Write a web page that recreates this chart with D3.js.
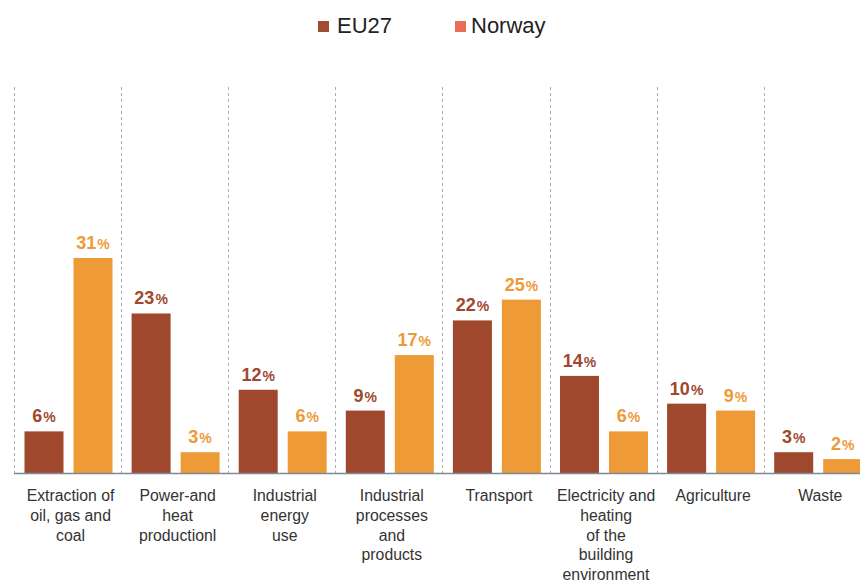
<!DOCTYPE html>
<html>
<head>
<meta charset="utf-8">
<script src="https://cdn.jsdelivr.net/npm/d3@7"></script>
<style>
  html, body { margin: 0; padding: 0; background: #ffffff; }
  svg { display: block; font-family: "Liberation Sans", Arial, Helvetica, sans-serif; }
</style>
</head>
<body>
<svg id="chart" width="860" height="583"></svg>
<script>
// Share of greenhouse gas emissions by sector (%)
const categories = [
  "Extraction of\noil, gas and\ncoal",
  "Power-and\nheat\nproductionl",
  "Industrial\nenergy\nuse",
  "Industrial\nprocesses\nand\nproducts",
  "Transport",
  "Electricity and\nheating\nof the\nbuilding\nenvironment",
  "Agriculture",
  "Waste"
];
const seriesNames = ["EU27", "Norway"];
const eu27 = [6, 23, 12, 9, 22, 14, 10, 3];
const norway = [31, 3, 6, 17, 25, 6, 9, 2];

const barColors = { EU27: "#a0482e", Norway: "#ee9a37" };
const legendColors = { EU27: "#a34a32", Norway: "#eb6c57" };

const svg = d3.select("#chart");
const baseY = 473;

const x = d3.scaleBand()
  .domain(categories)
  .range([14, 14 + 8 * 107.1])
  .paddingInner(0)
  .paddingOuter(0);

const xInner = d3.scaleBand()
  .domain(seriesNames)
  .range([10.5, 98.5])
  .paddingInner(0.204);

const y = d3.scaleLinear()
  .domain([0, 31])
  .range([baseY, 258]);

const rows = categories.map((c, i) => ({ category: c, EU27: eu27[i], Norway: norway[i] }));

// Dashed separators at the left edge of each category
svg.append("g")
  .selectAll("line")
  .data(categories)
  .join("line")
  .attr("x1", d => Math.round(x(d)) + 0.5)
  .attr("x2", d => Math.round(x(d)) + 0.5)
  .attr("y1", 87)
  .attr("y2", baseY)
  .attr("stroke", "#a9adb3")
  .attr("stroke-width", 1)
  .attr("stroke-dasharray", "3,3");

// Bars
const groups = svg.append("g")
  .selectAll("g")
  .data(rows)
  .join("g")
  .attr("transform", d => `translate(${x(d.category)},0)`);

groups.selectAll("rect")
  .data(d => seriesNames.map(s => ({ series: s, value: d[s] })))
  .join("rect")
  .attr("x", d => xInner(d.series))
  .attr("width", xInner.bandwidth())
  .attr("y", d => y(d.value))
  .attr("height", d => baseY - y(d.value) + 1)
  .attr("fill", d => barColors[d.series]);

// Value labels
const valueText = groups.selectAll("text.value")
  .data(d => seriesNames.map(s => ({ series: s, value: d[s] })))
  .join("text")
  .attr("class", "value")
  .attr("x", d => xInner(d.series) + xInner.bandwidth() / 2)
  .attr("y", d => y(d.value) - 9)
  .attr("text-anchor", "middle")
  .attr("font-weight", "bold")
  .attr("fill", d => barColors[d.series]);
valueText.append("tspan")
  .attr("font-size", 18)
  .text(d => d.value);
valueText.append("tspan")
  .attr("font-size", 14)
  .attr("dx", 1)
  .text("%");

// Baseline
svg.append("line")
  .attr("x1", 14)
  .attr("x2", 860)
  .attr("y1", baseY + 0.5)
  .attr("y2", baseY + 0.5)
  .attr("stroke", "#7d8a99")
  .attr("stroke-width", 1.5);

// Category labels
const catLabels = svg.append("g")
  .selectAll("text")
  .data(categories)
  .join("text")
  .attr("text-anchor", "middle")
  .attr("font-size", 15.8)
  .attr("fill", "#333333");
catLabels.each(function(d) {
  const t = d3.select(this);
  const cx = x(d) + x.bandwidth() / 2 + 3;
  d.split("\n").forEach((line, i) => {
    t.append("tspan")
      .attr("x", cx)
      .attr("y", 501 + i * 19.8)
      .text(line);
  });
});

// Legend
const legendPos = { EU27: 318, Norway: 455 };
const legend = svg.append("g")
  .selectAll("g")
  .data(seriesNames)
  .join("g")
  .attr("transform", d => `translate(${legendPos[d]},0)`);
legend.append("rect")
  .attr("x", 0)
  .attr("y", 21)
  .attr("width", 11)
  .attr("height", 11)
  .attr("fill", d => legendColors[d]);
legend.append("text")
  .attr("x", d => d === "EU27" ? 19 : 16)
  .attr("y", 33)
  .attr("font-size", 22)
  .attr("fill", "#222222")
  .text(d => d);
</script>
</body>
</html>
